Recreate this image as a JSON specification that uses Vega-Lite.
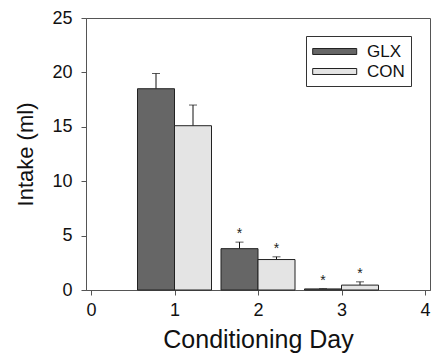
{
  "$schema": "https://vega.github.io/schema/vega-lite/v6.json",
  "autosize": {"type": "none"},
  "width": 344,
  "height": 272,
  "padding": {"left": 86, "top": 18, "right": 4, "bottom": 69},
  "background": "white",
  "config": {
    "font": "Liberation Sans",
    "view": {"stroke": "#555", "strokeWidth": 1},
    "axis": {
      "grid": false,
      "domainColor": "#555",
      "tickColor": "#555",
      "tickSize": 5,
      "labelFont": "Liberation Sans",
      "labelFontSize": 18,
      "labelColor": "#111",
      "titleFont": "Liberation Sans",
      "titleFontWeight": "normal",
      "titleColor": "#111"
    }
  },
  "data": {
    "values": [
      {"day": 1, "group": "GLX", "intake": 18.5, "hi": 19.9, "sig": ""},
      {"day": 1, "group": "CON", "intake": 15.1, "hi": 17.0, "sig": ""},
      {"day": 2, "group": "GLX", "intake": 3.8, "hi": 4.4, "sig": "*"},
      {"day": 2, "group": "CON", "intake": 2.8, "hi": 3.05, "sig": "*"},
      {"day": 3, "group": "GLX", "intake": 0.1, "hi": 0.12, "sig": "*"},
      {"day": 3, "group": "CON", "intake": 0.45, "hi": 0.75, "sig": "*"}
    ]
  },
  "encoding": {
    "x": {
      "field": "day", "type": "quantitative",
      "scale": {"domain": [0, 4], "nice": false, "zero": false},
      "axis": {"values": [0, 1, 2, 3, 4], "title": "Conditioning Day", "titleFontSize": 25, "titlePadding": 8, "labelPadding": 6}
    }
  },
  "layer": [
    {
      "transform": [{"filter": "datum.group === 'GLX'"}],
      "mark": {"type": "rule", "xOffset": -18.5, "color": "#111", "strokeWidth": 1},
      "encoding": {
        "y": {"field": "intake", "type": "quantitative"},
        "y2": {"field": "hi"}
      }
    },
    {
      "transform": [{"filter": "datum.group === 'CON'"}],
      "mark": {"type": "rule", "xOffset": 18.5, "color": "#111", "strokeWidth": 1},
      "encoding": {
        "y": {"field": "intake", "type": "quantitative"},
        "y2": {"field": "hi"}
      }
    },
    {
      "transform": [{"filter": "datum.group === 'GLX'"}],
      "mark": {"type": "tick", "orient": "horizontal", "xOffset": -18.5, "size": 8, "thickness": 1, "color": "#111"},
      "encoding": {"y": {"field": "hi", "type": "quantitative"}}
    },
    {
      "transform": [{"filter": "datum.group === 'CON'"}],
      "mark": {"type": "tick", "orient": "horizontal", "xOffset": 18.5, "size": 8, "thickness": 1, "color": "#111"},
      "encoding": {"y": {"field": "hi", "type": "quantitative"}}
    },
    {
      "transform": [{"filter": "datum.group === 'GLX'"}],
      "mark": {"type": "bar", "orient": "vertical", "width": 37, "xOffset": -18.5, "stroke": "#222", "strokeWidth": 1, "opacity": 1},
      "encoding": {
        "y": {
          "field": "intake", "type": "quantitative",
          "scale": {"domain": [0, 25], "nice": false},
          "axis": {"values": [0, 5, 10, 15, 20, 25], "title": "Intake (ml)", "titleFontSize": 22, "titlePadding": 14, "labelPadding": 9}
        },
        "fill": {
          "field": "group", "type": "nominal",
          "scale": {"domain": ["GLX", "CON"], "range": ["#666666", "#e4e4e4"]},
          "legend": {
            "title": null,
            "orient": "none",
            "legendX": 220,
            "legendY": 18,
            "strokeColor": "#333",
            "fillColor": "white",
            "padding": 6,
            "rowPadding": 2,
            "symbolType": "M-1,-0.34H4V0.34H-1Z",
            "symbolSize": 310,
            "symbolStrokeColor": "#222",
            "symbolStrokeWidth": 1,
            "symbolOpacity": 1,
            "labelOffset": 36,
            "labelFont": "Liberation Sans",
            "labelFontSize": 17,
            "labelColor": "#111"
          }
        }
      }
    },
    {
      "transform": [{"filter": "datum.group === 'CON'"}],
      "mark": {"type": "bar", "orient": "vertical", "width": 37, "xOffset": 18.5, "stroke": "#222", "strokeWidth": 1, "opacity": 1},
      "encoding": {
        "y": {"field": "intake", "type": "quantitative"},
        "fill": {"field": "group", "type": "nominal"}
      }
    },
    {
      "transform": [{"filter": "datum.group === 'GLX'"}],
      "mark": {"type": "text", "xOffset": -18.5, "dy": -4, "baseline": "alphabetic", "fontSize": 14, "color": "#222"},
      "encoding": {
        "y": {"field": "hi", "type": "quantitative"},
        "text": {"field": "sig"}
      }
    },
    {
      "transform": [{"filter": "datum.group === 'CON'"}],
      "mark": {"type": "text", "xOffset": 18.5, "dy": -4, "baseline": "alphabetic", "fontSize": 14, "color": "#222"},
      "encoding": {
        "y": {"field": "hi", "type": "quantitative"},
        "text": {"field": "sig"}
      }
    }
  ]
}
